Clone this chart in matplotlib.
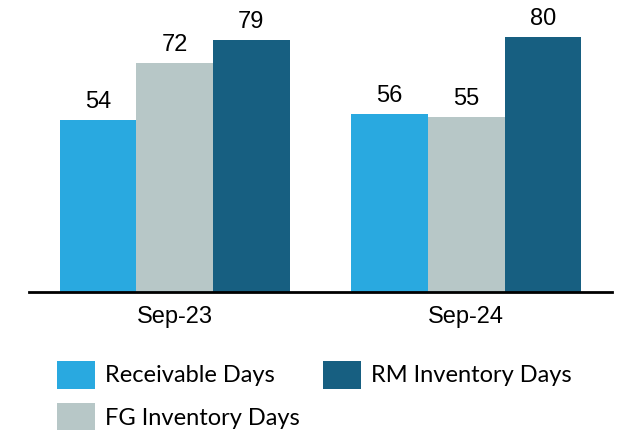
import numpy as np
import matplotlib.pyplot as plt

periods = ["Sep-23", "Sep-24"]
series = ["Receivable Days", "FG Inventory Days", "RM Inventory Days"]
receivable = [54, 56]
fg_inventory = [72, 55]
rm_inventory = [79, 80]
colors = ["#29A9E0", "#B7C7C7", "#175F81"]

values = [receivable, fg_inventory, rm_inventory]

fig = plt.figure(figsize=(6.23, 4.30), dpi=100)
ax = fig.add_axes([29 / 623, 1 - 291.7 / 430, 583 / 623, 291.7 / 430])

x = np.arange(len(periods))
width = 0.2625
for i, (name, vals) in enumerate(zip(series, values)):
    bars = ax.bar(x + (i - 1) * width, vals, width, color=colors[i], label=name)
    for b, v in zip(bars, vals):
        ax.text(b.get_x() + b.get_width() / 2, v + 2.2, str(v),
                ha="center", va="bottom", fontsize=17,
                family="Liberation Sans", color="black")

ax.set_xlim(-0.5, 1.5)
ax.set_ylim(0, 91.7)
ax.set_xticks(x)
ax.set_xticklabels(periods, fontsize=17, family="Liberation Sans")
ax.tick_params(axis="x", length=0, pad=10)
ax.set_yticks([])
for s in ["top", "right", "left"]:
    ax.spines[s].set_visible(False)
ax.spines["bottom"].set_linewidth(2)
ax.spines["bottom"].set_color("black")

# legend: Receivable + FG in first column, RM in second
fig.legend(loc="upper left", bbox_to_anchor=(56.7 / 623, 1 - 360.5 / 430),
           ncol=2, frameon=False, borderpad=0, borderaxespad=0,
           handlelength=1.61, handleheight=1.45, handletextpad=0.45,
           columnspacing=0.95, labelspacing=0.62,
           prop={"family": "Lato", "size": 17})

fig.savefig("out.png", dpi=100)
